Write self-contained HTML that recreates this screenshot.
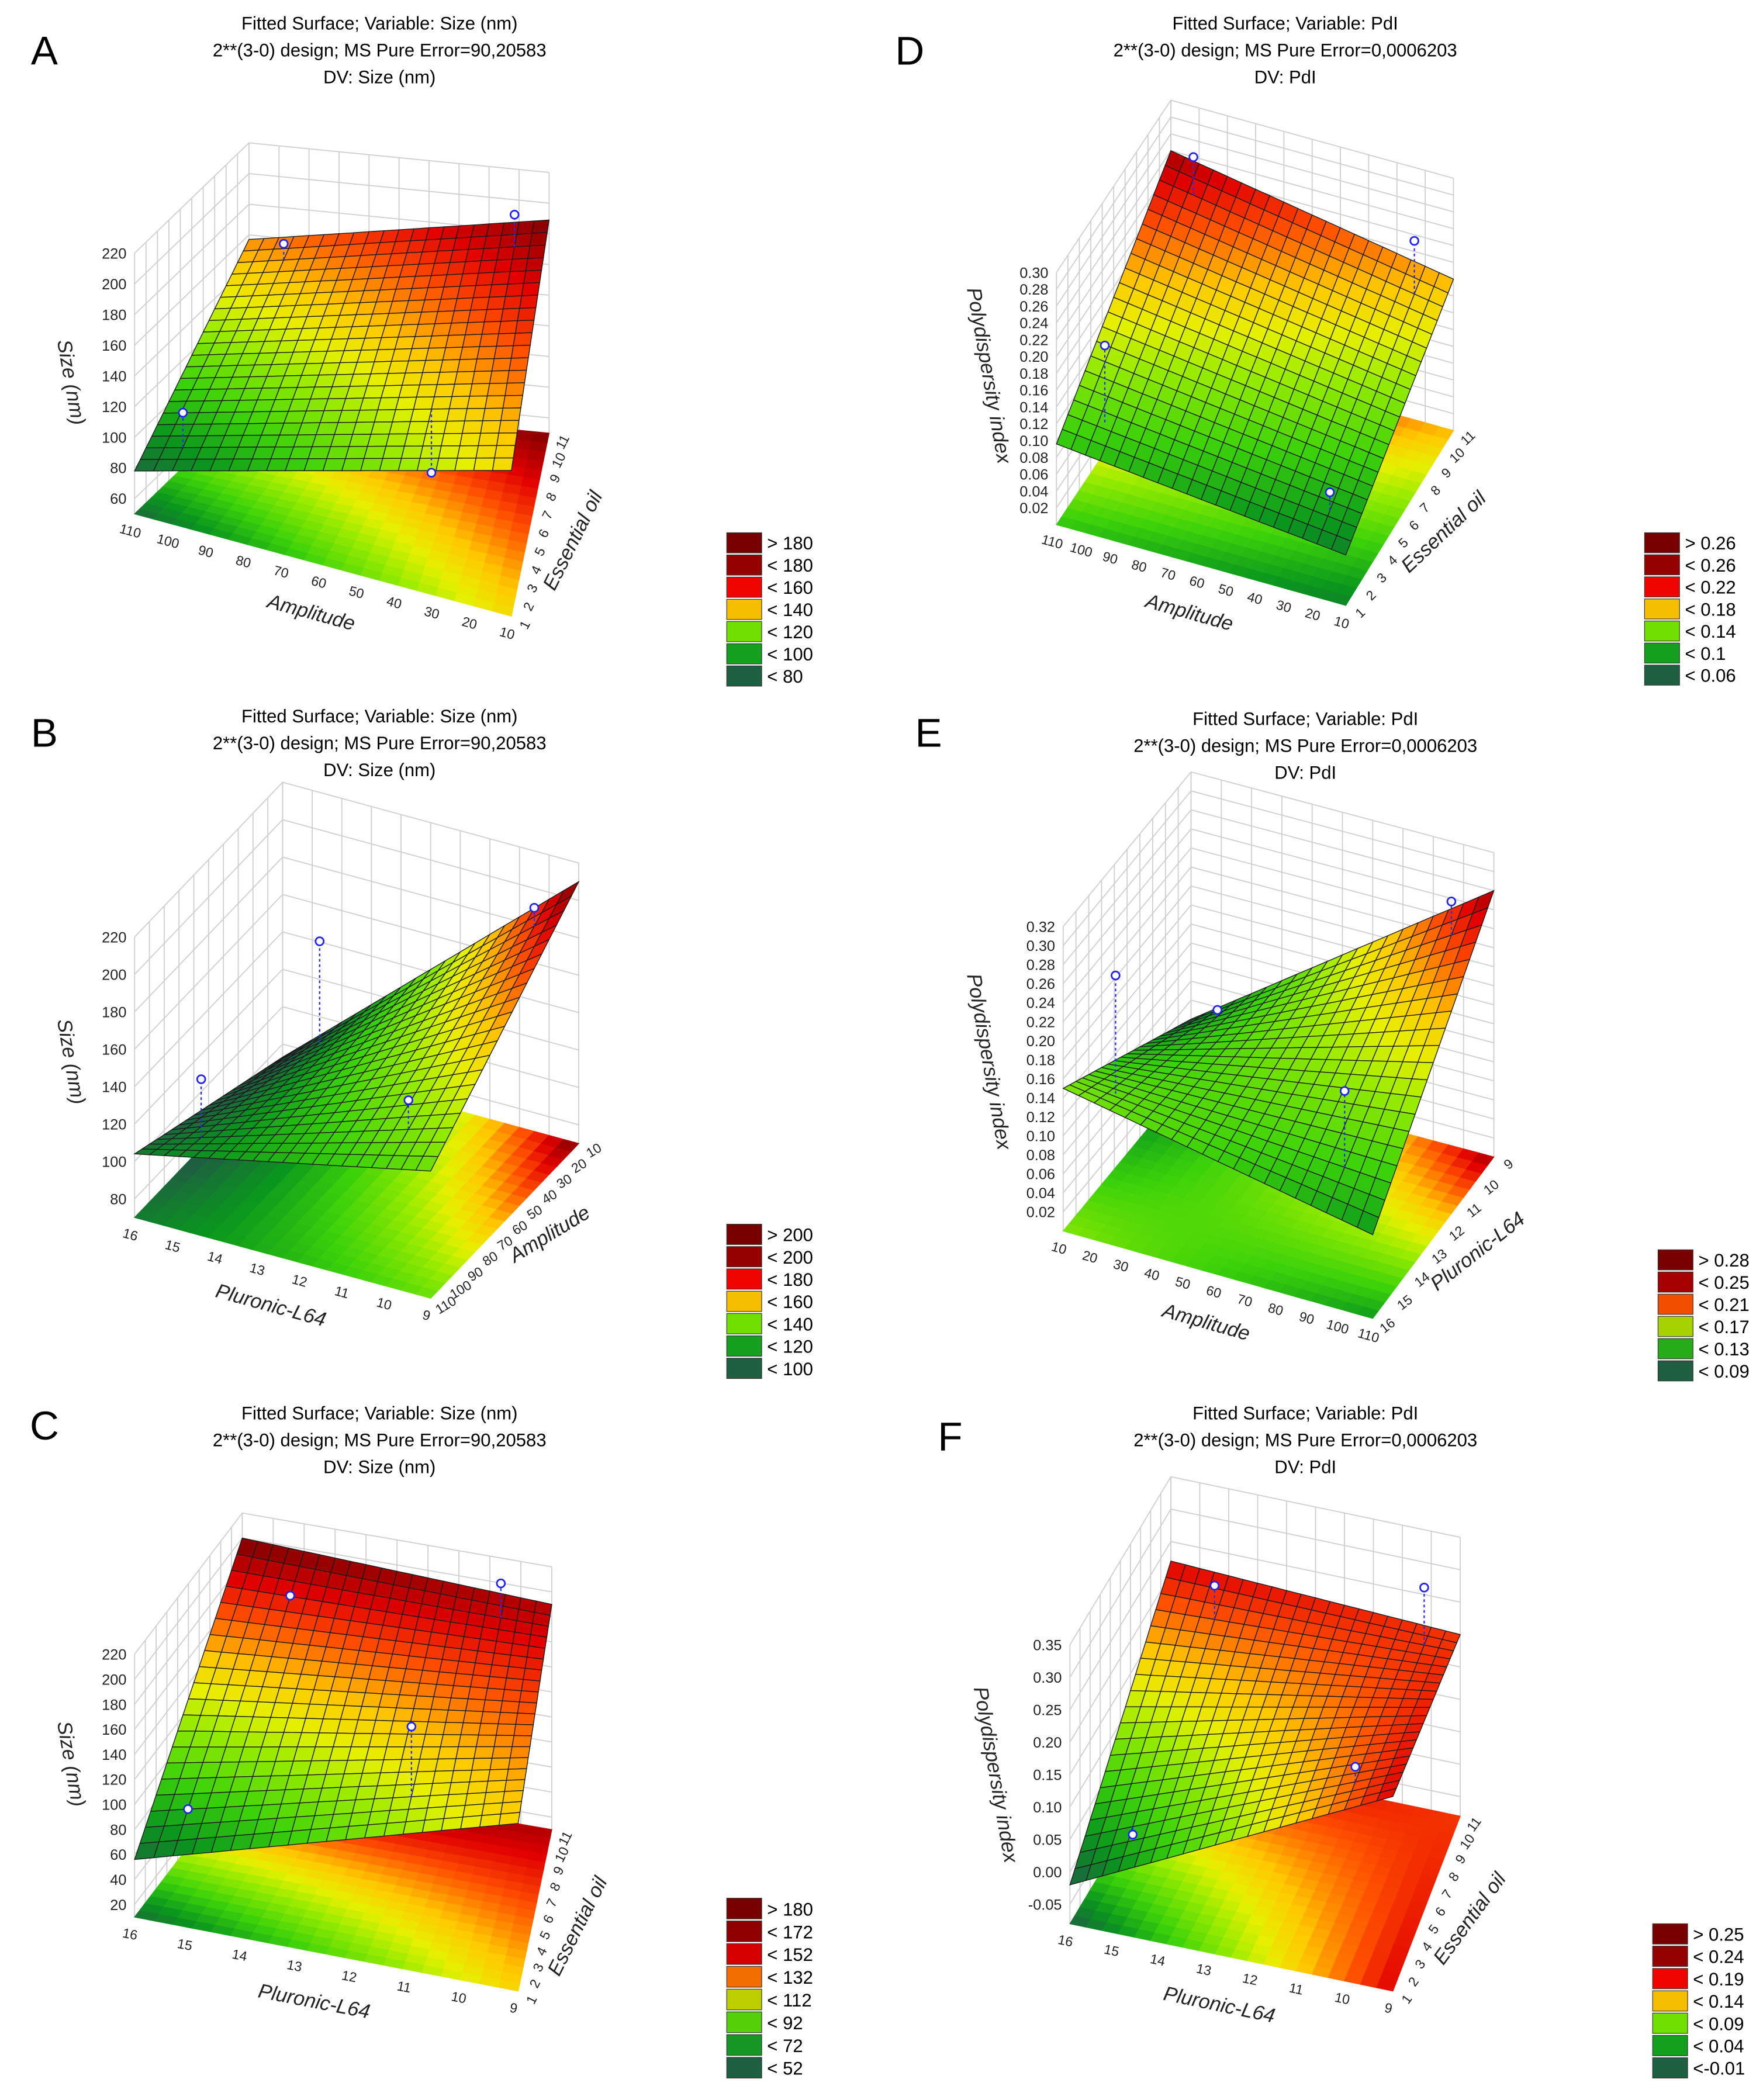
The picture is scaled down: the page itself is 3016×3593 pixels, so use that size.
<!DOCTYPE html>
<html><head><meta charset="utf-8">
<style>
html,body{margin:0;padding:0;background:#fff;}
svg{display:block;font-family:"Liberation Sans",Arial,sans-serif;}
</style></head>
<body>
<svg id="fig" xmlns="http://www.w3.org/2000/svg" width="3016" height="3593" viewBox="0 0 1310 1561" preserveAspectRatio="none">
<rect x="0" y="0" width="1310" height="1561" fill="#fff"/>
</svg>
<script>
// ---- data (corner z values of fitted surface, per panel: [zA,zB,zC,zD]) ----
const panelIds = ["A","B","C","D","E","F"];
const cornerA = [78,145,189,157];
const cornerB = [104,138,210,73];
const cornerC = [56,144,190,200];
const cornerD = [0.096,0.06,0.18,0.24];
const cornerE = [0.15,0.088,0.28,0.06];
const cornerF = [-0.02,0.22,0.20,0.22];
// observed design points [u,v,value]
const obsA = [[0.1,0.1,115],[0.75,0.25,100],[0.15,0.9,165],[0.9,0.9,202]];
const obsB = [[0.15,0.15,138],[0.85,0.15,157],[0.2,0.85,156],[0.9,0.9,200]];
const obsC = [[0.1,0.15,85],[0.7,0.15,185],[0.2,0.85,180],[0.85,0.9,213]];
const obsD = [[0.12,0.12,0.2],[0.9,0.12,0.10],[0.12,0.9,0.264],[0.9,0.9,0.237]];
const obsE = [[0.12,0.12,0.26],[0.85,0.15,0.2],[0.15,0.85,0.107],[0.9,0.9,0.277]];
const obsF = [[0.15,0.15,0.034],[0.85,0.15,0.21],[0.2,0.85,0.24],[0.9,0.9,0.29]];
// tick labels
const ampDesc = ["110","100","90","80","70","60","50","40","30","20","10"];
const ampAsc = ["10","20","30","40","50","60","70","80","90","100","110"];
const oilTicks = ["1","2","3","4","5","6","7","8","9","10","11"];
const plurTicks = ["16","15","14","13","12","11","10","9"];
const zTicksA = [60,80,100,120,140,160,180,200,220];
const zTicksB = [80,100,120,140,160,180,200,220];
const zTicksC = [20,40,60,80,100,120,140,160,180,200,220];
const zTicksD = [0.02,0.04,0.06,0.08,0.10,0.12,0.14,0.16,0.18,0.20,0.22,0.24,0.26,0.28,0.30];
const zTicksE = [0.02,0.04,0.06,0.08,0.10,0.12,0.14,0.16,0.18,0.20,0.22,0.24,0.26,0.28,0.30,0.32];
const zTicksF = [-0.05,0.00,0.05,0.10,0.15,0.20,0.25,0.30,0.35];
const legendA = ["> 180","< 180","< 160","< 140","< 120","< 100","< 80"];
const legendB = ["> 200","< 200","< 180","< 160","< 140","< 120","< 100"];
const legendC = ["> 180","< 172","< 152","< 132","< 112","< 92","< 72","< 52"];
const legendD = ["> 0.26","< 0.26","< 0.22","< 0.18","< 0.14","< 0.1","< 0.06"];
const legendE = ["> 0.28","< 0.25","< 0.21","< 0.17","< 0.13","< 0.09"];
const legendF = ["> 0.25","< 0.24","< 0.19","< 0.14","< 0.09","< 0.04","<-0.01"];

const NS="http://www.w3.org/2000/svg";
const svg=document.getElementById("fig");
function el(tag,attrs,parent,text){const e=document.createElementNS(NS,tag);for(const k in attrs)e.setAttribute(k,attrs[k]);if(text!==undefined)e.textContent=text;(parent||svg).appendChild(e);return e;}

const stops=[[0,[30,95,65]],[0.15,[10,150,30]],[0.3,[60,210,10]],[0.45,[150,235,0]],[0.55,[230,240,0]],[0.65,[255,200,0]],[0.78,[255,80,0]],[0.88,[225,0,0]],[1,[120,0,0]]];
function col(t){t=Math.max(0,Math.min(1,t));for(let i=1;i<stops.length;i++){if(t<=stops[i][0]){const a=stops[i-1],b=stops[i];const f=(t-a[0])/(b[0]-a[0]);const c=a[1].map((x,j)=>Math.round(x+(b[1][j]-x)*f));return `rgb(${c[0]},${c[1]},${c[2]})`;}}return "rgb(120,0,0)";}
const legStops=[[0,[120,0,0]],[0.17,[150,0,0]],[0.33,[240,0,0]],[0.5,[245,190,0]],[0.67,[110,225,0]],[0.83,[20,160,30]],[1,[30,95,65]]];
function legCol(t){for(let i=1;i<legStops.length;i++){if(t<=legStops[i][0]+1e-9){const a=legStops[i-1],b=legStops[i];const f=(t-a[0])/(b[0]-a[0]);const c=a[1].map((x,j)=>Math.round(x+(b[1][j]-x)*f));return `rgb(${c[0]},${c[1]},${c[2]})`;}}return "rgb(30,95,65)";}

const panels=[
 {id:"A",title:["Fitted Surface; Variable: Size (nm)","2**(3-0) design; MS Pure Error=90,20583","DV: Size (nm)"],tx:282,ty:17,lx:33,ly:48,
  A0:[100,382],B0:[380,458],C0:[408,322],D0:[185,300],z0:50,ztop:220,k:1.14,corner:cornerA,obs:obsA,cmin:75,cmax:190,
  uT:ampDesc,uTitle:"Amplitude",vT:oilTicks,vTitle:"Essential oil",zT:zTicksA,zTitle:"Size (nm)",zdec:0,ztx:48,zty:285,
  leg:legendA,legX:540,legY:396,legH:16.5},
 {id:"B",title:["Fitted Surface; Variable: Size (nm)","2**(3-0) design; MS Pure Error=90,20583","DV: Size (nm)"],tx:282,ty:532,lx:33,ly:555,
  A0:[100,905],B0:[320,965],C0:[430,850],D0:[210,790],z0:70,ztop:220,k:1.39,corner:cornerB,obs:obsB,cmin:95,cmax:210,
  uT:plurTicks,uTitle:"Pluronic-L64",vT:ampDesc,vTitle:"Amplitude",zT:zTicksB,zTitle:"Size (nm)",zdec:0,ztx:48,zty:790,
  leg:legendB,legX:540,legY:910,legH:16.6},
 {id:"C",title:["Fitted Surface; Variable: Size (nm)","2**(3-0) design; MS Pure Error=90,20583","DV: Size (nm)"],tx:282,ty:1050,lx:33,ly:1070,
  A0:[100,1425],B0:[385,1480],C0:[410,1360],D0:[180,1320],z0:10,ztop:220,k:0.93,corner:cornerC,obs:obsC,cmin:50,cmax:200,
  uT:plurTicks,uTitle:"Pluronic-L64",vT:oilTicks,vTitle:"Essential oil",zT:zTicksC,zTitle:"Size (nm)",zdec:0,ztx:48,zty:1312,
  leg:legendC,legX:540,legY:1411,legH:16.9},
 {id:"D",title:["Fitted Surface; Variable: PdI","2**(3-0) design; MS Pure Error=0,0006203","DV: PdI"],tx:955,ty:17,lx:676,ly:48,
  A0:[785,390],B0:[1000,450],C0:[1080,320],D0:[870,262],z0:0,ztop:0.3,k:625,corner:cornerD,obs:obsD,cmin:0.04,cmax:0.25,
  uT:ampDesc,uTitle:"Amplitude",vT:oilTicks,vTitle:"Essential oil",zT:zTicksD,zTitle:"Polydispersity index",zdec:2,ztx:730,zty:280,
  leg:legendD,legX:1222,legY:396,legH:16.4},
 {id:"E",title:["Fitted Surface; Variable: PdI","2**(3-0) design; MS Pure Error=0,0006203","DV: PdI"],tx:970,ty:534,lx:690,ly:555,
  A0:[790,915],B0:[1020,980],C0:[1110,860],D0:[885,800],z0:0,ztop:0.32,k:707,corner:cornerE,obs:obsE,cmin:0.05,cmax:0.29,
  uT:ampAsc,uTitle:"Amplitude",vT:plurTicks,vTitle:"Pluronic-L64",zT:zTicksE,zTitle:"Polydispersity index",zdec:2,ztx:730,zty:790,
  leg:legendE,legX:1232,legY:929,legH:16.5},
 {id:"F",title:["Fitted Surface; Variable: PdI","2**(3-0) design; MS Pure Error=0,0006203","DV: PdI"],tx:970,ty:1050,lx:706,ly:1078,
  A0:[795,1430],B0:[1035,1480],C0:[1085,1350],D0:[870,1305],z0:-0.08,ztop:0.35,k:482,corner:cornerF,obs:obsF,cmin:-0.02,cmax:0.25,
  uT:plurTicks,uTitle:"Pluronic-L64",vT:oilTicks,vTitle:"Essential oil",zT:zTicksF,zTitle:"Polydispersity index",zdec:2,ztx:735,zty:1320,
  leg:legendF,legX:1228,legY:1430,legH:16.6}
];

function base(p,u,v){const w=[(1-u)*(1-v),u*(1-v),u*v,(1-u)*v];const P=[p.A0,p.B0,p.C0,p.D0];return [P.reduce((s,q,i)=>s+q[0]*w[i],0),P.reduce((s,q,i)=>s+q[1]*w[i],0)];}
function zval(p,u,v){const c=p.corner;return c[0]*(1-u)*(1-v)+c[1]*u*(1-v)+c[2]*u*v+c[3]*(1-u)*v;}
function proj(p,u,v,z){const b=base(p,u,v);return [b[0],b[1]-(z-p.z0)*p.k];}
function pts(a){return a.map(q=>q[0].toFixed(1)+","+q[1].toFixed(1)).join(" ");}

panels.forEach(p=>{
  const g=el("g",{});
  
  
  const L=el("text",{x:p.lx,y:p.ly,"font-size":30,"text-anchor":"middle",fill:"#000"},g,p.id);
  
  
  p.title.forEach((t,i)=>{
    const T=el("text",{x:p.tx,y:p.ty+i*20+5,"font-size":13.5,"text-anchor":"middle",fill:"#000"},g,t);
    
    
  });
  const walls=el("g",{stroke:"#cfcfcf","stroke-width":0.8,fill:"none"},g);
  
  
  const zt=p.ztop;
  for(let i=0;i<=10;i++){const t=i/10;
    let a=proj(p,0,t,p.z0),b=proj(p,0,t,zt);el("line",{x1:a[0],y1:a[1],x2:b[0],y2:b[1]},walls);
    a=proj(p,t,1,p.z0);b=proj(p,t,1,zt);el("line",{x1:a[0],y1:a[1],x2:b[0],y2:b[1]},walls);}
  p.zT.forEach(z=>{const a=proj(p,0,0,z),b=proj(p,0,1,z),c=proj(p,1,1,z);el("polyline",{points:pts([a,b,c])},walls);});
  const floor=el("g",{},g);
  
  
  const N=20;
  for(let i=0;i<N;i++)for(let j=0;j<N;j++){
    const u0=i/N,u1=(i+1)/N,v0=j/N,v1=(j+1)/N;
    const c=col((zval(p,(u0+u1)/2,(v0+v1)/2)-p.cmin)/(p.cmax-p.cmin));
    el("polygon",{points:pts([base(p,u0,v0),base(p,u1,v0),base(p,u1,v1),base(p,u0,v1)]),fill:c,stroke:c,"stroke-width":0.6},floor);
  }
  p.zT.forEach(z=>{const a=proj(p,0,0,z);
    const t=el("text",{x:a[0]-6,y:a[1]+4,"font-size":11,"text-anchor":"end",fill:"#222"},g,z.toFixed(p.zdec));
    
    });
  const zt2=el("text",{x:p.ztx,y:p.zty,"font-size":15,"font-style":"italic","text-anchor":"middle",transform:`rotate(80 ${p.ztx} ${p.zty})`,fill:"#222"},g,p.zTitle);
  
  
  const ang=Math.atan2(p.B0[1]-p.A0[1],p.B0[0]-p.A0[0])*180/Math.PI;
  p.uT.forEach((s,i)=>{const t=i/(p.uT.length-1);const b=base(p,t,0);
    const e=el("text",{x:b[0]-4,y:b[1]+16,"font-size":10,"text-anchor":"middle",transform:`rotate(${ang} ${b[0]-4} ${b[1]+16})`,fill:"#222"},g,s);
    
    });
  const um=base(p,0.5,0);
  const ut=el("text",{x:um[0]-10,y:um[1]+40,"font-size":15,"font-style":"italic","text-anchor":"middle",transform:`rotate(${ang} ${um[0]-10} ${um[1]+40})`,fill:"#222"},g,p.uTitle);
  
  
  const ang2=Math.atan2(p.C0[1]-p.B0[1],p.C0[0]-p.B0[0])*180/Math.PI;
  p.vT.forEach((s,i)=>{const t=i/(p.vT.length-1);const b=base(p,1,t);
    const e=el("text",{x:b[0]+13,y:b[1]+8,"font-size":10,"text-anchor":"middle",transform:`rotate(${ang2+15} ${b[0]+13} ${b[1]+8})`,fill:"#222"},g,s);
    
    });
  const vm=base(p,1,0.5);
  const vt=el("text",{x:vm[0]+36,y:vm[1]+14,"font-size":15,"font-style":"italic","text-anchor":"middle",transform:`rotate(${ang2+15} ${vm[0]+36} ${vm[1]+14})`,fill:"#222"},g,p.vTitle);
  
  
  const surf=el("g",{stroke:"#1a1a1a","stroke-width":0.6},g);
  
  
  const cells=[];
  for(let i=0;i<N;i++)for(let j=0;j<N;j++)cells.push([i,j]);
  cells.sort((a,b)=>(b[1]-a[1])||(a[0]-b[0]));
  cells.forEach(([i,j])=>{
    const u0=i/N,u1=(i+1)/N,v0=j/N,v1=(j+1)/N;
    const q=[[u0,v0],[u1,v0],[u1,v1],[u0,v1]].map(([u,v])=>proj(p,u,v,zval(p,u,v)));
    const c=col((zval(p,(u0+u1)/2,(v0+v1)/2)-p.cmin)/(p.cmax-p.cmin));
    el("polygon",{points:pts(q),fill:c},surf);
  });
  p.obs.forEach(o=>{const s=proj(p,o[0],o[1],zval(p,o[0],o[1]));const a=proj(p,o[0],o[1],o[2]);
    const ln=el("line",{x1:s[0],y1:s[1],x2:a[0],y2:a[1],stroke:"#2a2aff","stroke-width":1,"stroke-dasharray":"2,2"},g);
    
    
    const c=el("circle",{cx:a[0],cy:a[1],r:3,fill:"#fff",stroke:"#2020ff","stroke-width":1.2},g);
    
    });
  const lg=el("g",{},g);
  
  
  const n=p.leg.length;
  p.leg.forEach((s,i)=>{const y=p.legY+i*p.legH;
    const r=el("rect",{x:p.legX,y:y,width:26,height:p.legH-1.5,fill:legCol(i/(n-1)),stroke:"#333","stroke-width":0.5},lg);
    
    
    const t=el("text",{x:p.legX+30,y:y+p.legH-4,"font-size":13.5,fill:"#000"},lg,s);
    
    });
});
</script>
</body></html>
